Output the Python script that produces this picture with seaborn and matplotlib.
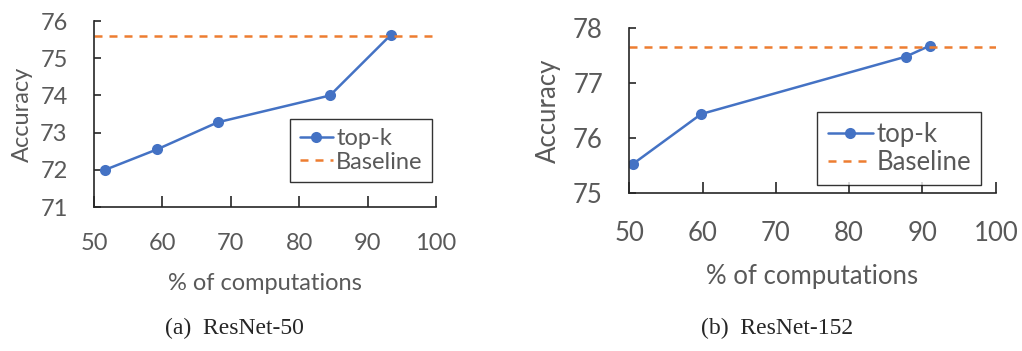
import numpy as np
import pandas as pd
import seaborn as sns
import matplotlib.pyplot as plt

# Data Setting
comp_r50 = [51.6, 59.2, 68.1, 84.5, 93.4]
acc_r50 = [72.0, 72.55, 73.28, 74.0, 75.63]
base_r50 = 75.6

comp_r152 = [50.55, 59.8, 87.7, 91.0]
acc_r152 = [75.54, 76.44, 77.48, 77.68]
base_r152 = 77.66

x_ticks = [50, 60, 70, 80, 90, 100]
captions = ['(a)  ResNet-50', '(b)  ResNet-152']

# Drawing
sns.set_style("white")
plt.rcParams['font.family'] = ['Lato', 'DejaVu Sans']
gray = '#595959'
blue = '#4472C4'
orange = '#ED7D31'

fig = plt.figure(figsize=(10.22, 3.51), dpi=100)
ax1 = fig.add_axes([0.092, 0.410, 0.3346, 0.530])
ax2 = fig.add_axes([0.6158, 0.449, 0.3585, 0.471])

# per panel: axes, data, ylim, yticks, font size, xtick pad, xlabel pad, ylabel pad, legend spot, handle length
panels = [
    (ax1, comp_r50, acc_r50, base_r50, (71, 76), [71, 72, 73, 74, 75, 76],
     17, 19, 13, 5, (0.781, 0.304), 1.4),
    (ax2, comp_r152, acc_r152, base_r152, (75, 78), [75, 76, 77, 78],
     18.5, 20, 13, 9, (0.737, 0.271), 1.75),
]

for ax, xs, ys, base, ylim, yticks, fs, xpad, xlpad, ylpad, legpos, hl in panels:
    df = pd.DataFrame({'comp': xs, 'acc': ys})
    sns.lineplot(df, x='comp', y='acc', ax=ax, color=blue, marker='o',
                 markersize=8, markeredgewidth=0, linewidth=1.8, label='top-k')
    ax.axhline(base, color=orange, linestyle=(0, (3.2, 2.8)), linewidth=1.8,
               label='Baseline')
    ax.set_xlim(50, 100)
    ax.set_ylim(*ylim)
    ax.set_xticks(x_ticks)
    ax.set_yticks(yticks)
    for s in ['top', 'right']:
        ax.spines[s].set_visible(False)
    for s in ['left', 'bottom']:
        ax.spines[s].set_color('#262626')
        ax.spines[s].set_linewidth(1.2)
    ax.tick_params(axis='x', direction='in', length=8, width=1.2, color='#262626',
                   labelsize=fs, labelcolor=gray, pad=xpad)
    ax.tick_params(axis='y', direction='in', length=5, width=1.2, color='#262626',
                   labelsize=fs, labelcolor=gray, pad=19)
    ax.tick_params(axis='x', bottom=True)
    ax.tick_params(axis='y', left=True)
    ax.set_xlabel('% of computations', fontsize=fs, color=gray, labelpad=xlpad)
    ax.set_ylabel('Accuracy', fontsize=fs, color=gray, labelpad=ylpad)
    leg = ax.legend(loc='center', bbox_to_anchor=legpos, fontsize=fs,
                    frameon=True, fancybox=False, handlelength=hl,
                    handletextpad=0.15, borderpad=0.4, labelspacing=0.1,
                    borderaxespad=0.0)
    leg.get_frame().set_edgecolor('black')
    leg.get_frame().set_linewidth(1.0)
    for t in leg.get_texts():
        t.set_color(gray)

fig.text(0.229, 0.065, captions[0], ha='center', va='center',
         fontsize=17, family='Liberation Serif')
fig.text(0.760, 0.065, captions[1], ha='center', va='center',
         fontsize=17, family='Liberation Serif')

plt.savefig("out.png", dpi=100)
